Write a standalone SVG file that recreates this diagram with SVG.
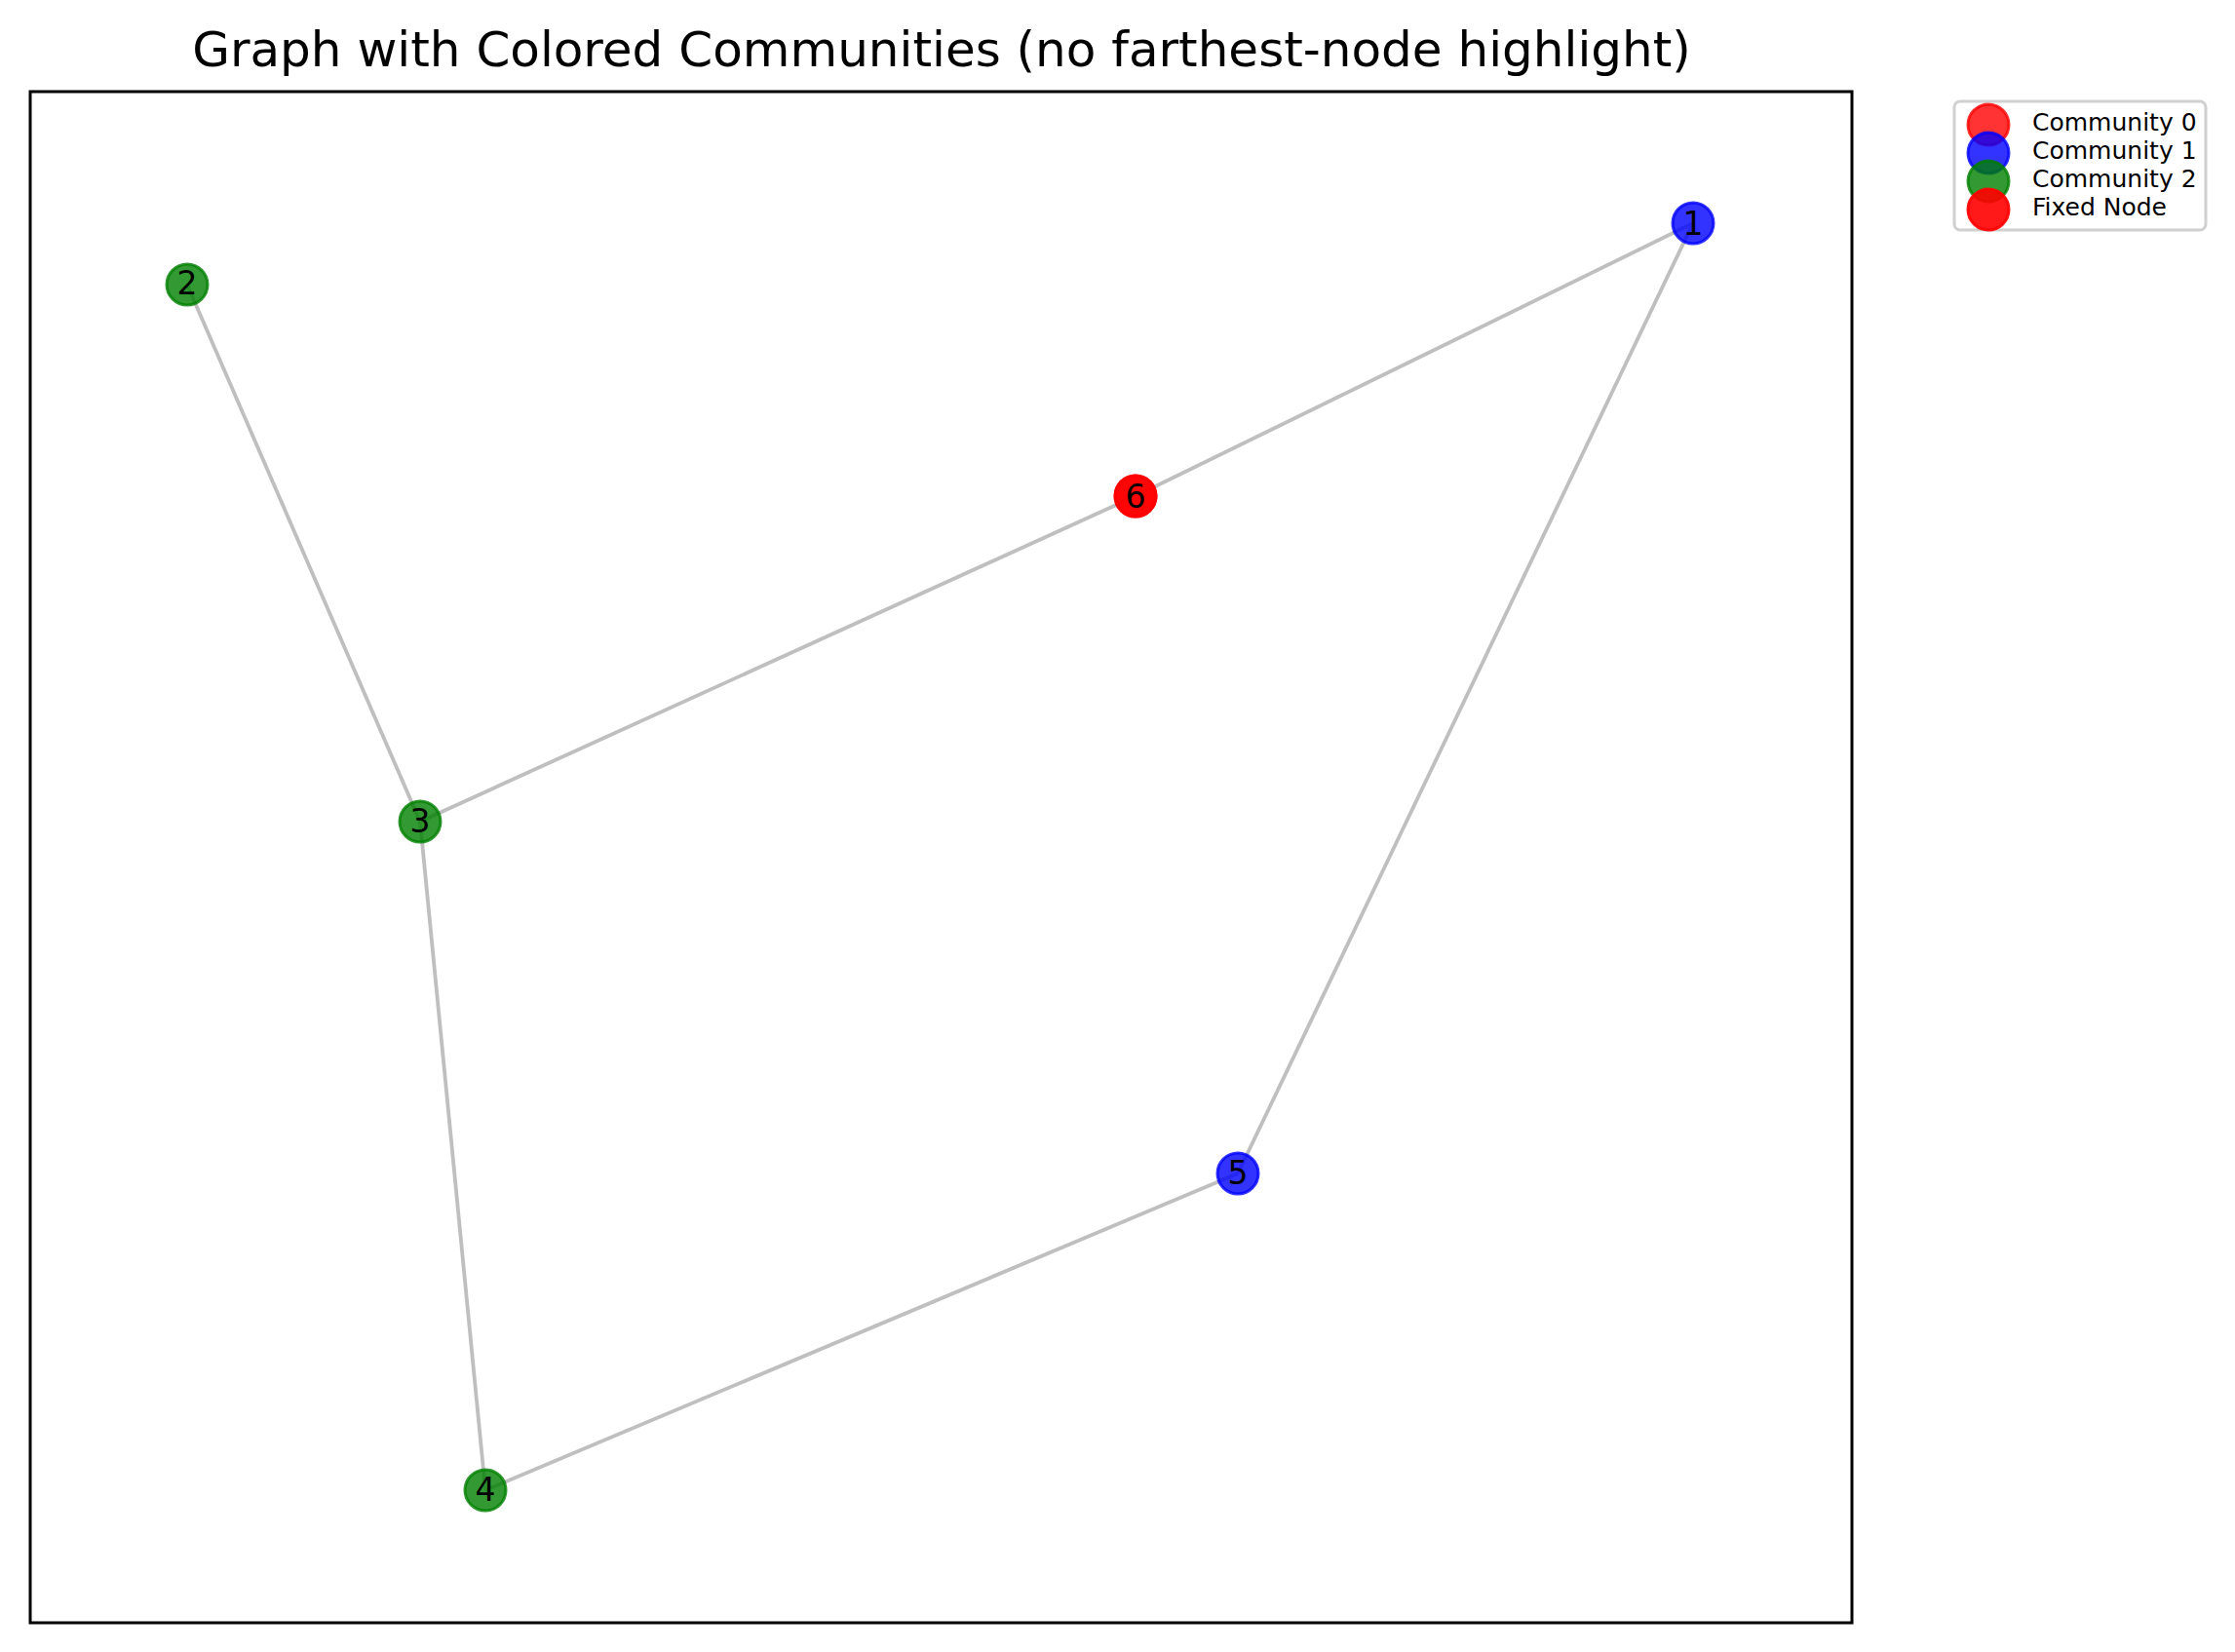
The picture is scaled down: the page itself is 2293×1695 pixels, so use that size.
<svg xmlns="http://www.w3.org/2000/svg" width="2293" height="1695" viewBox="0 0 2293 1695">
<style>
  text { font-family: "DejaVu Sans", "Liberation Sans", sans-serif; fill: #000; }
  .edge { stroke: #bfbfbf; stroke-width: 3.8; fill: none; stroke-linecap: butt; }
  .c0 { fill: #ff0000; fill-opacity: 0.8; stroke: #ff0000; stroke-opacity: 0.8; stroke-width: 3; }
  .c1 { fill: #0000ff; fill-opacity: 0.8; stroke: #0000ff; stroke-opacity: 0.8; stroke-width: 3; }
  .c2 { fill: #008000; fill-opacity: 0.8; stroke: #008000; stroke-opacity: 0.8; stroke-width: 3; }
  .fx { fill: #ff0000; fill-opacity: 0.9; stroke: #ff0000; stroke-opacity: 0.9; stroke-width: 3; }
  .lbl { font-size: 33px; text-anchor: middle; }
  .leg { font-size: 25px; }
</style>
<rect x="0" y="0" width="2293" height="1695" fill="#ffffff"/>
<text x="966" y="68" font-size="50" text-anchor="middle">Graph with Colored Communities (no farthest-node highlight)</text>
<rect x="31" y="94" width="1869" height="1571" fill="none" stroke="#000" stroke-width="3"/>
<g id="connectors">
  <line class="edge" x1="192" y1="292" x2="431" y2="843"/>
  <line class="edge" x1="431" y1="843" x2="1165" y2="509"/>
  <line class="edge" x1="1165" y1="509" x2="1737" y2="229"/>
  <line class="edge" x1="1737" y1="229" x2="1270" y2="1204"/>
  <line class="edge" x1="1270" y1="1204" x2="498" y2="1529"/>
  <line class="edge" x1="498" y1="1529" x2="431" y2="843"/>
</g>
<g id="node1"><circle class="c1" cx="1737" cy="229" r="21"/><text class="lbl" x="1737" y="241">1</text></g>
<g id="node2"><circle class="c2" cx="192" cy="292" r="21"/><text class="lbl" x="192" y="302">2</text></g>
<g id="node3"><circle class="c2" cx="431" cy="843" r="21"/><text class="lbl" x="431" y="854">3</text></g>
<g id="node4"><circle class="c2" cx="498" cy="1529" r="21"/><text class="lbl" x="498" y="1540">4</text></g>
<g id="node5"><circle class="c1" cx="1270" cy="1204" r="21"/><text class="lbl" x="1270" y="1215">5</text></g>
<g id="node6"><circle class="c0" cx="1165" cy="509" r="21"/><circle class="fx" cx="1165" cy="509" r="21"/><text class="lbl" x="1165" y="521">6</text></g>
<g id="legend">
  <rect x="2005" y="104" width="258" height="132" rx="6" ry="6" fill="#ffffff" fill-opacity="0.8" stroke="#d0d0d0" stroke-width="3"/>
  <circle class="c0" cx="2040" cy="128" r="21"/>
  <circle class="c1" cx="2040" cy="157" r="21"/>
  <circle class="c2" cx="2040" cy="186" r="21"/>
  <circle class="fx" cx="2040" cy="215" r="21"/>
  <text class="leg" x="2085" y="134">Community 0</text>
  <text class="leg" x="2085" y="163">Community 1</text>
  <text class="leg" x="2085" y="192">Community 2</text>
  <text class="leg" x="2085" y="221">Fixed Node</text>
</g>
</svg>
